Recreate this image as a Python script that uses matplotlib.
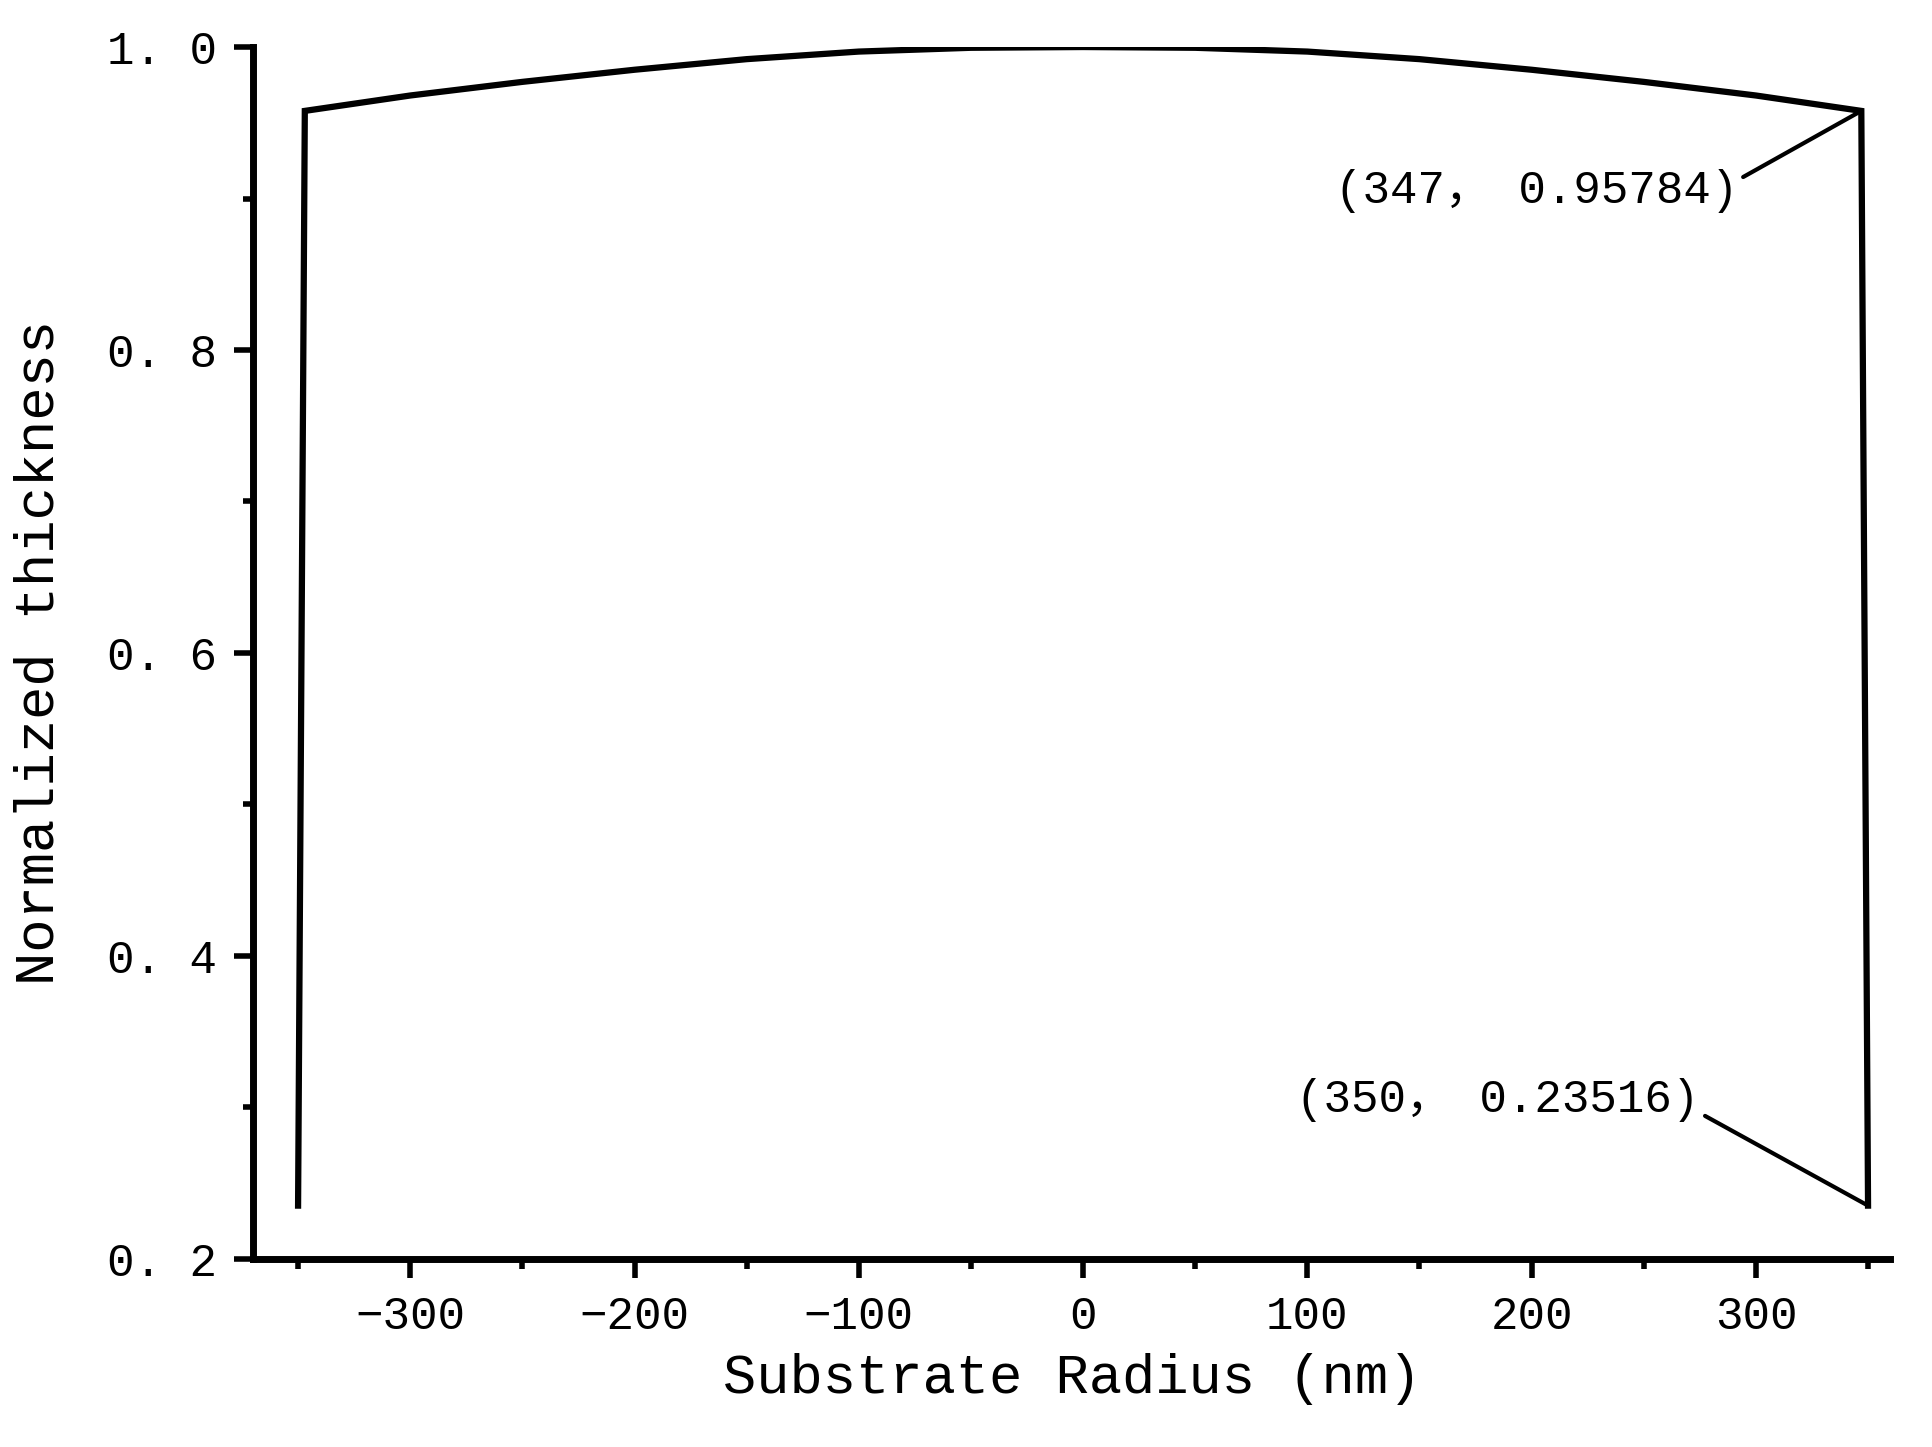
import matplotlib
matplotlib.use("Agg")
import matplotlib.pyplot as plt
from matplotlib.ticker import MultipleLocator

radius = [-350, -347, -300, -250, -200, -150, -100, -50, 0, 50, 100, 150, 200, 250, 300, 347, 350]
thickness = [0.23516, 0.95784, 0.968, 0.977, 0.985, 0.992, 0.997, 0.9995, 1.0, 0.9995, 0.997, 0.992, 0.985, 0.977, 0.968, 0.95784, 0.23516]
xticks = [-300, -200, -100, 0, 100, 200, 300]
yticks = [0.2, 0.4, 0.6, 0.8, 1.0]
ylabels = ["0. 2", "0. 4", "0. 6", "0. 8", "1. 0"]

font = ["Liberation Mono", "Noto Sans CJK SC", "DejaVu Sans"]
plt.rcParams['font.family'] = font

fig = plt.figure(figsize=(19.33, 14.47), dpi=100)
ax = fig.add_axes([0.131, 0.130, 0.847, 0.8375])
ax.plot(radius, thickness, color="black", lw=4.5, solid_joinstyle="miter")
ax.set_xlim(-370, 360)
ax.set_ylim(0.2, 1.0)
for s in ["top", "right"]:
    ax.spines[s].set_visible(False)
for s in ["left", "bottom"]:
    ax.spines[s].set_linewidth(5)
ax.set_xticks(xticks)
ax.set_xticklabels([str(v).replace("-", "\u2212") for v in xticks])
ax.set_yticks(yticks)
ax.set_yticklabels(ylabels)
ax.xaxis.set_minor_locator(MultipleLocator(50))
ax.yaxis.set_minor_locator(MultipleLocator(0.1))
ax.tick_params(which="major", direction="out", length=14, width=4, labelsize=33, pad=12)
ax.tick_params(which="minor", direction="out", length=7, width=4)
ax.set_xlabel("Substrate Radius (nm)", fontsize=40, labelpad=10)
ax.set_ylabel("Normalized thickness", fontsize=40, labelpad=30)

ax.annotate("(347\uff0c 0.95784)", xy=(347, 0.95784), xytext=(292, 0.905),
            fontsize=33, ha="right", va="center",
            arrowprops=dict(arrowstyle="-", lw=3, color="black", shrinkA=2, shrinkB=0, relpos=(1.0, 0.75)))
ax.annotate("(350\uff0c 0.23516)", xy=(350, 0.23516), xytext=(275, 0.305),
            fontsize=33, ha="right", va="center",
            arrowprops=dict(arrowstyle="-", lw=3, color="black", shrinkA=2, shrinkB=0, relpos=(1.0, 0.2)))
fig.savefig("out.png", dpi=100)
